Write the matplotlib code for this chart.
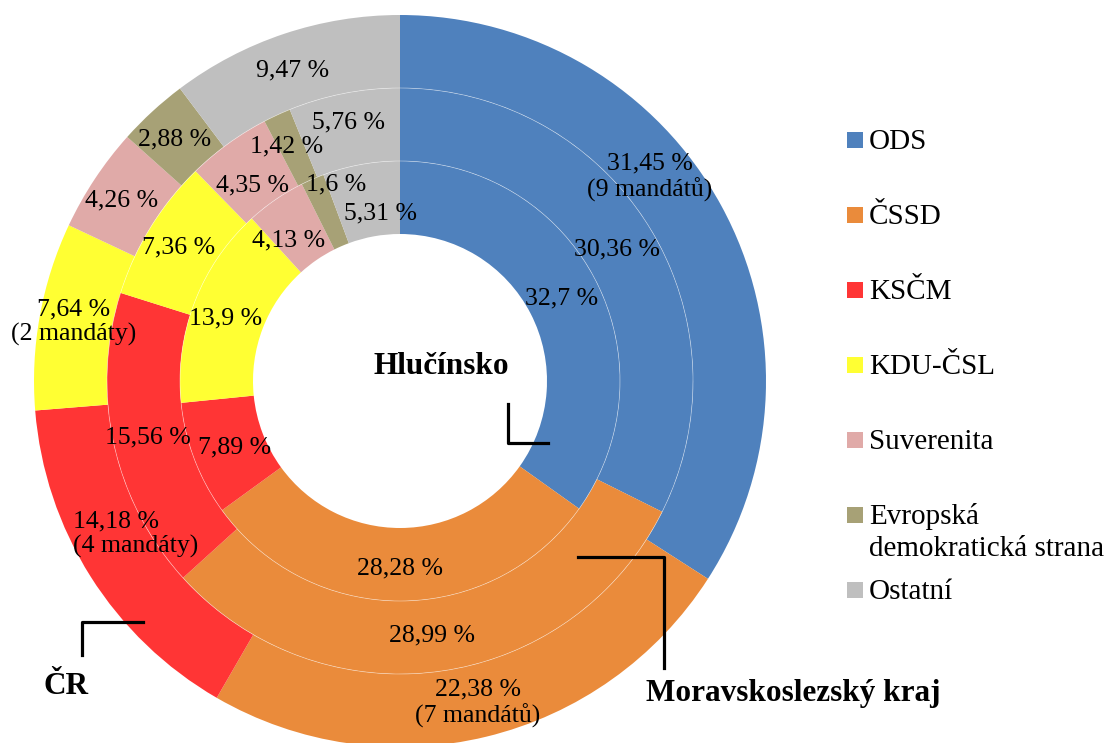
import matplotlib
matplotlib.use("Agg")
import matplotlib.pyplot as plt
from matplotlib.patches import Circle, Rectangle

plt.rcParams['font.family'] = ['Liberation Serif', 'DejaVu Serif']

# data
parties = ["ODS", "ČSSD", "KSČM", "KDU-ČSL", "Suverenita",
           "Evropská\ndemokratická strana", "Ostatní"]
colors = ["#4F81BD", "#EA8B3B", "#FF3535", "#FFFF33", "#E0AAA8", "#A7A176", "#BFBFBF"]

cr = [31.45, 22.38, 14.18, 7.64, 4.26, 2.88, 9.47]          # outer ring
msk = [30.36, 28.99, 15.56, 7.36, 4.35, 1.42, 5.76]         # middle ring
hlucinsko = [32.7, 28.28, 7.89, 13.9, 4.13, 1.6, 5.31]      # inner ring

cr_mandates = {0: "(9 mandátů)", 1: "(7 mandátů)", 2: "(4 mandáty)", 3: "(2 mandáty)"}

W, H = 1109, 743
CX, CY = 400, 381          # centre in pixel coords (y from top)
R_OUT, RING = 366, 73


def py(y):
    return H - y


def fmt(v):
    return f"{v:g}".replace(".", ",") + " %"


fig = plt.figure(figsize=(W / 100, H / 100), dpi=100)
ax = fig.add_axes([0, 0, 1, 1])

for i, vals in enumerate([cr, msk, hlucinsko]):
    ax.pie(vals, colors=colors, radius=R_OUT - i * RING, center=(CX, py(CY)),
           startangle=90, counterclock=False,
           wedgeprops=dict(width=RING, edgecolor="none", linewidth=0))

for r in [R_OUT - RING, R_OUT - 2 * RING]:
    ax.add_patch(Circle((CX, py(CY)), r, fill=False, edgecolor="white",
                        linewidth=0.5, alpha=0.5))

ax.set_xlim(0, W)
ax.set_ylim(0, H)
ax.set_aspect("equal")
ax.axis("off")

# label positions (pixel coords, placed by hand like in the original)
cr_pos = [(650, 177), (478, 703), (73, 534), (74, 322), (122, 200), (175, 139), (293, 70)]
msk_pos = [(617, 249), (432, 635), (148, 437), (179, 247), (252, 185), (287, 146), (349, 122)]
hl_pos = [(562, 298), (400, 568), (235, 447), (226, 318), (289, 240), (336, 184), (380, 213)]

fs = 18.5
for i, (v, (x, y)) in enumerate(zip(cr, cr_pos)):
    txt = fmt(v)
    if i in cr_mandates:
        txt += "\n" + cr_mandates[i]
    ha = "left" if i == 2 else "center"
    ax.text(x, py(y), txt, ha=ha, va="center", fontsize=fs, multialignment=ha,
            linespacing=1.15)
for vals, pos in [(msk, msk_pos), (hlucinsko, hl_pos)]:
    for v, (x, y) in zip(vals, pos):
        ax.text(x, py(y), fmt(v), ha="center", va="center", fontsize=fs)

# ring captions with pointer lines
bold = dict(ha="center", va="center", fontsize=22.5, fontweight="bold")
ax.text(441, py(366), "Hlučínsko", **bold)
ax.plot([508, 508, 548], [py(404), py(443), py(443)], color="black", lw=2.3)
ax.text(66, py(686), "ČR", **bold)
ax.plot([82, 82, 143], [py(655), py(622), py(622)], color="black", lw=2.3)
ax.text(793, py(694), "Moravskoslezský kraj", **bold)
ax.plot([578, 664, 664], [py(557), py(557), py(668)], color="black", lw=2.3)

# legend
for i, (name, c) in enumerate(zip(parties, colors)):
    y = 140 + 75 * i
    ax.add_patch(Rectangle((847, py(y) - 8), 16, 16, facecolor=c, edgecolor="none"))
    for j, line in enumerate(name.split("\n")):
        ax.text(869, py(y + 2 + 32 * j), line, ha="left", va="center", fontsize=21)

fig.savefig("out.png", dpi=100)
